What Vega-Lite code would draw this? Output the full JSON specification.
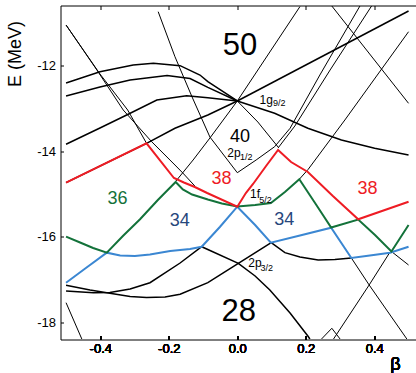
{
  "$schema": "https://vega.github.io/schema/vega-lite/v6.json",
  "width": 356,
  "height": 334,
  "autosize": {"type": "none"},
  "padding": {"left": 60.5, "top": 5.5, "right": 0, "bottom": 33.5},
  "background": "white",
  "config": {
    "view": {"stroke": "black", "strokeWidth": 1},
    "font": "Liberation Sans",
    "axis": {"grid": false, "domain": false, "ticks": true, "tickColor": "black", "labelColor": "black", "titleColor": "black", "labelFont": "Liberation Sans", "titleFont": "Liberation Sans", "titleFontWeight": "normal"}
  },
  "datasets": {
    "lines": [
      {"s": "r", "i": 0, "b": -0.5, "e": -14.737, "k": "red"},
      {"s": "r", "i": 1, "b": -0.265, "e": -13.821, "k": "red"},
      {"s": "r", "i": 2, "b": -0.185, "e": -14.628, "k": "red"},
      {"s": "r", "i": 3, "b": -0.156, "e": -14.733, "k": "red"},
      {"s": "r", "i": 4, "b": -0.124, "e": -14.837, "k": "red"},
      {"s": "r", "i": 5, "b": -0.088, "e": -14.977, "k": "red"},
      {"s": "r", "i": 6, "b": 0, "e": -15.295, "k": "red"},
      {"s": "r", "i": 7, "b": 0.025, "e": -14.977, "k": "red"},
      {"s": "r", "i": 8, "b": 0.046, "e": -14.767, "k": "red"},
      {"s": "r", "i": 9, "b": 0.084, "e": -14.349, "k": "red"},
      {"s": "r", "i": 10, "b": 0.119, "e": -13.977, "k": "red"},
      {"s": "r", "i": 11, "b": 0.157, "e": -14.256, "k": "red"},
      {"s": "r", "i": 12, "b": 0.206, "e": -14.488, "k": "red"},
      {"s": "r", "i": 13, "b": 0.279, "e": -15.047, "k": "red"},
      {"s": "r", "i": 14, "b": 0.353, "e": -15.588, "k": "red"},
      {"s": "r", "i": 15, "b": 0.5, "e": -15.179, "k": "red"},

      {"s": "g", "i": 0, "b": -0.5, "e": -15.993, "k": "green"},
      {"s": "g", "i": 1, "b": -0.459, "e": -16.128, "k": "green"},
      {"s": "g", "i": 2, "b": -0.421, "e": -16.256, "k": "green"},
      {"s": "g", "i": 3, "b": -0.381, "e": -16.365, "k": "green"},
      {"s": "g", "i": 4, "b": -0.334, "e": -15.977, "k": "green"},
      {"s": "g", "i": 5, "b": -0.284, "e": -15.588, "k": "green"},
      {"s": "g", "i": 6, "b": -0.232, "e": -15.14, "k": "green"},
      {"s": "g", "i": 7, "b": -0.18, "e": -14.721, "k": "green"},
      {"s": "g", "i": 8, "b": -0.159, "e": -14.895, "k": "green"},
      {"s": "g", "i": 9, "b": -0.132, "e": -15.012, "k": "green"},
      {"s": "g", "i": 10, "b": -0.086, "e": -15.128, "k": "green"},
      {"s": "g", "i": 11, "b": -0.045, "e": -15.221, "k": "green"},
      {"s": "g", "i": 12, "b": 0, "e": -15.291, "k": "green"},
      {"s": "g", "i": 13, "b": 0.052, "e": -15.256, "k": "green"},
      {"s": "g", "i": 14, "b": 0.098, "e": -15.209, "k": "green"},
      {"s": "g", "i": 15, "b": 0.139, "e": -14.953, "k": "green"},
      {"s": "g", "i": 16, "b": 0.181, "e": -14.658, "k": "green"},
      {"s": "g", "i": 17, "b": 0.227, "e": -15.209, "k": "green"},
      {"s": "g", "i": 18, "b": 0.274, "e": -15.779, "k": "green"},
      {"s": "g", "i": 19, "b": 0.353, "e": -15.593, "k": "green"},
      {"s": "g", "i": 20, "b": 0.402, "e": -15.953, "k": "green"},
      {"s": "g", "i": 21, "b": 0.45, "e": -16.337, "k": "green"},
      {"s": "g", "i": 22, "b": 0.5, "e": -15.721, "k": "green"},

      {"s": "bl", "i": 0, "b": -0.5, "e": -17.063, "k": "blue"},
      {"s": "bl", "i": 1, "b": -0.442, "e": -16.721, "k": "blue"},
      {"s": "bl", "i": 2, "b": -0.381, "e": -16.365, "k": "blue"},
      {"s": "bl", "i": 3, "b": -0.342, "e": -16.43, "k": "blue"},
      {"s": "bl", "i": 4, "b": -0.299, "e": -16.442, "k": "blue"},
      {"s": "bl", "i": 5, "b": -0.255, "e": -16.407, "k": "blue"},
      {"s": "bl", "i": 6, "b": -0.196, "e": -16.326, "k": "blue"},
      {"s": "bl", "i": 7, "b": -0.138, "e": -16.279, "k": "blue"},
      {"s": "bl", "i": 8, "b": -0.104, "e": -16.226, "k": "blue"},
      {"s": "bl", "i": 9, "b": -0.051, "e": -15.767, "k": "blue"},
      {"s": "bl", "i": 10, "b": 0, "e": -15.295, "k": "blue"},
      {"s": "bl", "i": 11, "b": 0.052, "e": -15.721, "k": "blue"},
      {"s": "bl", "i": 12, "b": 0.098, "e": -16.133, "k": "blue"},
      {"s": "bl", "i": 13, "b": 0.183, "e": -15.965, "k": "blue"},
      {"s": "bl", "i": 14, "b": 0.274, "e": -15.784, "k": "blue"},
      {"s": "bl", "i": 15, "b": 0.333, "e": -16.488, "k": "blue"},
      {"s": "bl", "i": 16, "b": 0.387, "e": -16.43, "k": "blue"},
      {"s": "bl", "i": 17, "b": 0.446, "e": -16.365, "k": "blue"},
      {"s": "bl", "i": 18, "b": 0.5, "e": -16.226, "k": "blue"},

      {"s": "A", "i": 0, "b": -0.5, "e": -12.419, "k": "thick"},
      {"s": "A", "i": 1, "b": -0.401, "e": -12.156, "k": "thick"},
      {"s": "A", "i": 2, "b": -0.304, "e": -12.0, "k": "thick"},
      {"s": "A", "i": 3, "b": -0.245, "e": -11.961, "k": "thick"},
      {"s": "A", "i": 4, "b": -0.167, "e": -12.016, "k": "thick"},
      {"s": "A", "i": 5, "b": -0.109, "e": -12.233, "k": "thick"},
      {"s": "A", "i": 6, "b": -0.086, "e": -12.388, "k": "thick"},
      {"s": "A", "i": 7, "b": 0, "e": -12.837, "k": "thick"},
      {"s": "B", "i": 0, "b": -0.5, "e": -12.721, "k": "thick"},
      {"s": "B", "i": 1, "b": -0.401, "e": -12.512, "k": "thick"},
      {"s": "B", "i": 2, "b": -0.313, "e": -12.349, "k": "thick"},
      {"s": "B", "i": 3, "b": -0.205, "e": -12.244, "k": "thick"},
      {"s": "B", "i": 4, "b": -0.138, "e": -12.314, "k": "thick"},
      {"s": "B", "i": 5, "b": -0.086, "e": -12.519, "k": "thick"},
      {"s": "B", "i": 6, "b": 0, "e": -12.837, "k": "thick"},
      {"s": "C", "i": 0, "b": -0.5, "e": -13.844, "k": "thick"},
      {"s": "C", "i": 1, "b": -0.401, "e": -13.465, "k": "thick"},
      {"s": "C", "i": 2, "b": -0.323, "e": -13.163, "k": "thick"},
      {"s": "C", "i": 3, "b": -0.235, "e": -12.814, "k": "thick"},
      {"s": "C", "i": 4, "b": -0.148, "e": -12.714, "k": "thick"},
      {"s": "C", "i": 5, "b": -0.086, "e": -12.76, "k": "thick"},
      {"s": "C", "i": 6, "b": 0, "e": -12.837, "k": "thick"},
      {"s": "D", "i": 0, "b": -0.5, "e": -14.737, "k": "thick"},
      {"s": "D", "i": 1, "b": -0.265, "e": -13.821, "k": "thick"},
      {"s": "D", "i": 2, "b": -0.182, "e": -13.472, "k": "thick"},
      {"s": "D", "i": 3, "b": -0.086, "e": -13.163, "k": "thick"},
      {"s": "D", "i": 4, "b": 0, "e": -12.837, "k": "thick"},
      {"s": "R1", "i": 0, "b": 0, "e": -12.837, "k": "thick"},
      {"s": "R1", "i": 1, "b": 0.5, "e": -10.744, "k": "thick"},
      {"s": "R2", "i": 0, "b": 0, "e": -12.837, "k": "thick"},
      {"s": "R2", "i": 1, "b": 0.109, "e": -13.123, "k": "thick"},
      {"s": "R2", "i": 2, "b": 0.206, "e": -13.472, "k": "thick"},
      {"s": "R2", "i": 3, "b": 0.304, "e": -13.744, "k": "thick"},
      {"s": "R2", "i": 4, "b": 0.401, "e": -13.937, "k": "thick"},
      {"s": "R2", "i": 5, "b": 0.5, "e": -14.093, "k": "thick"},
      {"s": "Ku", "i": 0, "b": -0.5, "e": -17.256, "k": "thick"},
      {"s": "Ku", "i": 1, "b": -0.42, "e": -17.295, "k": "thick"},
      {"s": "Ku", "i": 2, "b": -0.372, "e": -17.291, "k": "thick"},
      {"s": "Ku", "i": 3, "b": -0.313, "e": -17.209, "k": "thick"},
      {"s": "Ku", "i": 4, "b": -0.255, "e": -17.063, "k": "thick"},
      {"s": "Ku", "i": 5, "b": -0.167, "e": -16.605, "k": "thick"},
      {"s": "Ku", "i": 6, "b": -0.104, "e": -16.226, "k": "thick"},
      {"s": "Ku", "i": 7, "b": 0.003, "e": -16.612, "k": "thick"},
      {"s": "Ku", "i": 8, "b": 0.052, "e": -16.907, "k": "thick"},
      {"s": "Ku", "i": 9, "b": 0.095, "e": -17.233, "k": "thick"},
      {"s": "Ku", "i": 10, "b": 0.154, "e": -17.767, "k": "thick"},
      {"s": "Ku", "i": 11, "b": 0.206, "e": -18.302, "k": "thick"},
      {"s": "Ku", "i": 12, "b": 0.212, "e": -18.372, "k": "thick"},
      {"s": "Kl", "i": 0, "b": -0.5, "e": -17.123, "k": "thick"},
      {"s": "Kl", "i": 1, "b": -0.43, "e": -17.233, "k": "thick"},
      {"s": "Kl", "i": 2, "b": -0.372, "e": -17.309, "k": "thick"},
      {"s": "Kl", "i": 3, "b": -0.313, "e": -17.384, "k": "thick"},
      {"s": "Kl", "i": 4, "b": -0.265, "e": -17.407, "k": "thick"},
      {"s": "Kl", "i": 5, "b": -0.211, "e": -17.395, "k": "thick"},
      {"s": "Kl", "i": 6, "b": -0.167, "e": -17.333, "k": "thick"},
      {"s": "Kl", "i": 7, "b": -0.086, "e": -17.063, "k": "thick"},
      {"s": "Kl", "i": 8, "b": 0.003, "e": -16.612, "k": "thick"},
      {"s": "Kl", "i": 9, "b": 0.099, "e": -16.133, "k": "thick"},
      {"s": "Kc", "i": 0, "b": 0.099, "e": -16.133, "k": "thick"},
      {"s": "Kc", "i": 1, "b": 0.139, "e": -16.365, "k": "thick"},
      {"s": "Kc", "i": 2, "b": 0.183, "e": -16.465, "k": "thick"},
      {"s": "Kc", "i": 3, "b": 0.236, "e": -16.535, "k": "thick"},
      {"s": "Kc", "i": 4, "b": 0.285, "e": -16.523, "k": "thick"},
      {"s": "Kc", "i": 5, "b": 0.333, "e": -16.488, "k": "thick"},

      {"s": "E", "i": 0, "b": -0.179, "e": -14.698, "k": "thin"},
      {"s": "E", "i": 1, "b": -0.129, "e": -14.209, "k": "thin"},
      {"s": "E", "i": 2, "b": -0.08, "e": -13.698, "k": "thin"},
      {"s": "E", "i": 3, "b": 0, "e": -12.837, "k": "thin"},
      {"s": "T", "i": 0, "b": -0.231, "e": -10.76, "k": "thin"},
      {"s": "T", "i": 1, "b": -0.182, "e": -11.807, "k": "thin"},
      {"s": "T", "i": 2, "b": -0.132, "e": -12.744, "k": "thin"},
      {"s": "T", "i": 3, "b": -0.08, "e": -13.674, "k": "thin"},
      {"s": "T", "i": 4, "b": 0, "e": -14.505, "k": "thin"},
      {"s": "T", "i": 5, "b": 0.055, "e": -14.209, "k": "thin"},
      {"s": "T", "i": 6, "b": 0.109, "e": -13.9, "k": "thin"},
      {"s": "T", "i": 7, "b": 0.154, "e": -13.472, "k": "thin"},
      {"s": "T", "i": 8, "b": 0.241, "e": -12.233, "k": "thin"},
      {"s": "T", "i": 9, "b": 0.358, "e": -10.628, "k": "thin"},
      {"s": "X3", "i": 0, "b": 0.119, "e": -13.93, "k": "thin"},
      {"s": "X3", "i": 1, "b": 0.168, "e": -13.419, "k": "thin"},
      {"s": "X3", "i": 2, "b": 0.271, "e": -12.116, "k": "thin"},
      {"s": "X3", "i": 3, "b": 0.392, "e": -10.628, "k": "thin"},
      {"s": "F", "i": 0, "b": 0, "e": -12.837, "k": "thin"},
      {"s": "F", "i": 1, "b": 0.06, "e": -13.326, "k": "thin"},
      {"s": "F", "i": 2, "b": 0.119, "e": -13.907, "k": "thin"},
      {"s": "U1", "i": 0, "b": 0, "e": -12.837, "k": "thin"},
      {"s": "U1", "i": 1, "b": 0.183, "e": -10.64, "k": "thin"},
      {"s": "X1", "i": 0, "b": 0.276, "e": -10.628, "k": "thin"},
      {"s": "X1", "i": 1, "b": 0.5, "e": -12.891, "k": "thin"},
      {"s": "X4", "i": 0, "b": 0.5, "e": -11.226, "k": "thin"},
      {"s": "X4", "i": 1, "b": 0.314, "e": -13.279, "k": "thin"},
      {"s": "X4", "i": 2, "b": 0.207, "e": -14.426, "k": "thin"},
      {"s": "X4", "i": 3, "b": 0.181, "e": -14.658, "k": "thin"},
      {"s": "O1", "i": 0, "b": -0.5, "e": -11.07, "k": "thin"},
      {"s": "O1", "i": 1, "b": -0.41, "e": -12.116, "k": "thin"},
      {"s": "O1", "i": 2, "b": -0.333, "e": -13.047, "k": "thin"},
      {"s": "O1", "i": 3, "b": -0.25, "e": -13.784, "k": "thin"},
      {"s": "O1", "i": 4, "b": -0.182, "e": -14.326, "k": "thin"},
      {"s": "O1", "i": 5, "b": -0.159, "e": -14.512, "k": "thin"},
      {"s": "O1", "i": 6, "b": -0.124, "e": -14.814, "k": "thin"},
      {"s": "O2", "i": 0, "b": -0.5, "e": -11.07, "k": "thin"},
      {"s": "O2", "i": 1, "b": -0.401, "e": -12.209, "k": "thin"},
      {"s": "O2", "i": 2, "b": -0.32, "e": -13.047, "k": "thin"},
      {"s": "O2", "i": 3, "b": -0.265, "e": -13.821, "k": "thin"},
      {"s": "BL", "i": 0, "b": -0.5, "e": -17.528, "k": "thin"},
      {"s": "BL", "i": 1, "b": -0.454, "e": -18.372, "k": "thin"},
      {"s": "Kr1", "i": 0, "b": 0.281, "e": -18.372, "k": "thin"},
      {"s": "Kr1", "i": 1, "b": 0.385, "e": -17.116, "k": "thin"},
      {"s": "Kr1", "i": 2, "b": 0.446, "e": -16.349, "k": "thin"},
      {"s": "Kr2", "i": 0, "b": 0.333, "e": -16.488, "k": "thin"},
      {"s": "Kr2", "i": 1, "b": 0.385, "e": -17.116, "k": "thin"},
      {"s": "Kr2", "i": 2, "b": 0.495, "e": -18.372, "k": "thin"},
      {"s": "Kr3", "i": 0, "b": 0.45, "e": -16.337, "k": "thin"},
      {"s": "Kr3", "i": 1, "b": 0.5, "e": -16.651, "k": "thin"},
      {"s": "V", "i": 0, "b": 0.246, "e": -18.372, "k": "thin"},
      {"s": "V", "i": 1, "b": 0.276, "e": -18.123, "k": "thin"},
      {"s": "V", "i": 2, "b": 0.3, "e": -18.372, "k": "thin"}
    ],
    "labels": [
      {"t": "50", "b": 0.008, "e": -11.768, "g": "big"},
      {"t": "28", "b": 0.004, "e": -17.953, "g": "big"},
      {"t": "40", "b": 0.008, "e": -13.791, "g": "mid"},
      {"t": "38", "b": -0.046, "e": -14.767, "g": "38"},
      {"t": "38", "b": 0.38, "e": -15.0, "g": "38"},
      {"t": "36", "b": -0.35, "e": -15.24, "g": "36"},
      {"t": "34", "b": -0.168, "e": -15.744, "g": "34"},
      {"t": "34", "b": 0.137, "e": -15.728, "g": "34"},
      {"t": "1g", "b": 0.065, "e": -12.907, "g": "orb"},
      {"t": "9/2", "b": 0.104, "e": -12.954, "g": "sub"},
      {"t": "2p", "b": -0.029, "e": -14.133, "g": "orb"},
      {"t": "1/2", "b": 0.008, "e": -14.209, "g": "sub"},
      {"t": "1f", "b": 0.037, "e": -15.1, "g": "orb"},
      {"t": "5/2", "b": 0.064, "e": -15.209, "g": "sub"},
      {"t": "2p", "b": 0.032, "e": -16.705, "g": "orb"},
      {"t": "3/2", "b": 0.068, "e": -16.791, "g": "sub"}
    ]
  },
  "encoding": {
    "x": {"field": "b", "type": "quantitative", "scale": {"domain": [-0.5162, 0.5232], "nice": false, "zero": false},
      "axis": {"orient": "bottom", "values": [-0.4, -0.2, 0, 0.2, 0.4], "labelExpr": "datum.value < 0 ? '-' + format(-datum.value, '.1f') : format(datum.value, '.1f')", "offset": -4, "tickSize": 4, "labelPadding": 2.5, "labelFontSize": 13, "title": "β", "titleFontSize": 18, "titleX": 334.5, "titleY": 34, "titleBaseline": "alphabetic", "titleAlign": "center", "titleAngle": 0}},
    "y": {"field": "e", "type": "quantitative", "scale": {"domain": [-18.384, -10.616], "nice": false, "zero": false},
      "axis": {"values": [-18, -16, -14, -12], "labelExpr": "'-' + abs(datum.value)", "offset": -3, "tickSize": 3, "labelPadding": 5, "labelFontSize": 13, "title": "E (MeV)", "titleFontSize": 18, "titleX": -39, "titleY": 48, "titleAngle": -90, "titleAlign": "center", "titleBaseline": "bottom"}}
  },
  "layer": [
    {
      "data": {"name": "lines"},
      "transform": [{"filter": "datum.k == 'thin'"}],
      "mark": {"type": "line", "color": "black", "strokeWidth": 1, "clip": true},
      "encoding": {"detail": {"field": "s"}, "order": {"field": "i", "type": "quantitative"}}
    },
    {
      "data": {"name": "lines"},
      "transform": [{"filter": "datum.k == 'thick'"}],
      "mark": {"type": "line", "color": "black", "strokeWidth": 1.5, "clip": true},
      "encoding": {"detail": {"field": "s"}, "order": {"field": "i", "type": "quantitative"}}
    },
    {
      "data": {"name": "lines"},
      "transform": [{"filter": "datum.k == 'blue'"}],
      "mark": {"type": "line", "color": "#3b87d2", "strokeWidth": 2, "clip": true},
      "encoding": {"detail": {"field": "s"}, "order": {"field": "i", "type": "quantitative"}}
    },
    {
      "data": {"name": "lines"},
      "transform": [{"filter": "datum.k == 'green'"}],
      "mark": {"type": "line", "color": "#13723a", "strokeWidth": 2, "clip": true},
      "encoding": {"detail": {"field": "s"}, "order": {"field": "i", "type": "quantitative"}}
    },
    {
      "data": {"name": "lines"},
      "transform": [{"filter": "datum.k == 'red'"}],
      "mark": {"type": "line", "color": "#ee1c24", "strokeWidth": 2, "clip": true},
      "encoding": {"detail": {"field": "s"}, "order": {"field": "i", "type": "quantitative"}}
    },
    {
      "data": {"name": "labels"},
      "transform": [{"filter": "datum.g == 'big'"}],
      "mark": {"type": "text", "fontSize": 31, "align": "center", "baseline": "alphabetic", "color": "black"},
      "encoding": {
        "x": {"field": "b", "type": "quantitative", "scale": {"domain": [-0.5162, 0.5232], "nice": false, "zero": false},
          "axis": {"orient": "top", "values": [-0.4, -0.2, 0, 0.2, 0.4], "labels": false, "offset": -4, "tickSize": 4, "domain": false, "title": null}},
        "text": {"field": "t"}
      }
    },
    {
      "data": {"name": "labels"},
      "transform": [{"filter": "datum.g == 'mid'"}],
      "mark": {"type": "text", "fontSize": 18, "align": "center", "baseline": "alphabetic", "color": "black"},
      "encoding": {"text": {"field": "t"}}
    },
    {
      "data": {"name": "labels"},
      "transform": [{"filter": "datum.g == '38' || datum.g == '36' || datum.g == '34'"}],
      "mark": {"type": "text", "fontSize": 18, "align": "center", "baseline": "alphabetic"},
      "encoding": {
        "text": {"field": "t"},
        "color": {"field": "g", "type": "nominal", "scale": {"domain": ["38", "36", "34"], "range": ["#ee1c24", "#13723a", "#27477c"]}, "legend": null}
      }
    },
    {
      "data": {"name": "labels"},
      "transform": [{"filter": "datum.g == 'orb'"}],
      "mark": {"type": "text", "fontSize": 12, "align": "left", "baseline": "alphabetic", "color": "black"},
      "encoding": {"text": {"field": "t"}}
    },
    {
      "data": {"name": "labels"},
      "transform": [{"filter": "datum.g == 'sub'"}],
      "mark": {"type": "text", "fontSize": 9, "align": "left", "baseline": "alphabetic", "color": "black"},
      "encoding": {"text": {"field": "t"}}
    }
  ]
}
